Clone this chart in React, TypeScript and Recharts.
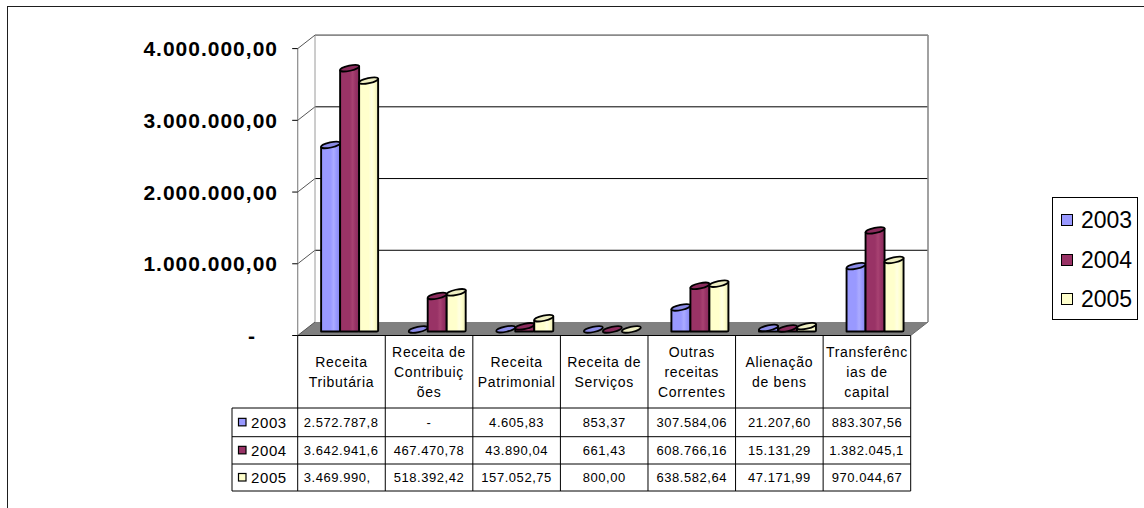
import React from 'react';
import { BarChart, Bar, XAxis, YAxis, CartesianGrid, Legend } from 'recharts';

// ---- data ----
const categories = [
  'Receita Tributária',
  'Receita de Contribuições',
  'Receita Patrimonial',
  'Receita de Serviços',
  'Outras receitas Correntes',
  'Alienação de bens',
  'Transferências de capital',
];

// category labels as they wrap inside the table header cells
const categoryLines = [
  ['Receita', 'Tributária'],
  ['Receita de', 'Contribuiç', 'ões'],
  ['Receita', 'Patrimonial'],
  ['Receita de', 'Serviços'],
  ['Outras', 'receitas', 'Correntes'],
  ['Alienação', 'de bens'],
  ['Transferênc', 'ias de', 'capital'],
];

const years = ['2003', '2004', '2005'];

const values2003 = [2572787.8, 0, 4605.83, 853.37, 307584.06, 21207.6, 883307.56];
const values2004 = [3642941.6, 467470.78, 43890.04, 661.43, 608766.16, 15131.29, 1382045.1];
const values2005 = [3469990.0, 518392.42, 157052.75, 800.0, 638582.64, 47171.99, 970044.67];

const yTicks = [0, 1000000, 2000000, 3000000, 4000000];

const seriesValues = [values2003, values2004, values2005];

const chartData = categories.map((category, i) => ({
  category,
  y2003: values2003[i],
  y2004: values2004[i],
  y2005: values2005[i],
}));

// ---- styling ----
const FONT = "Arial, 'Liberation Sans', Helvetica, sans-serif";

const tones = [
  { base: '#9999FF', light: '#ABABFF', dark: '#8787EA', top: '#8A8AE6' },
  { base: '#993366', light: '#A84272', dark: '#85295A', top: '#8A2B5C' },
  { base: '#FFFFCC', light: '#FFFFE2', dark: '#E6E6B4', top: '#EEEEC2' },
];

// layout of the oblique 3D box
const W = 1144;
const H = 508;
const PLOT = { left: 306.5, right: 919.5, top: 44.6, bottom: 331.5 };
const BACK = { dx: 8.5, dy: -9.5 };
const FRONT = { dx: -8.8, dy: 4 };
const Y_AXIS_W = 60;
const X_AXIS_H = 160;
const BAND = (PLOT.right - PLOT.left) / categories.length;
const TABLE = { top: PLOT.bottom + FRONT.dy, rows: [408, 436.7, 464, 491], headerLeft: 232, headerMid: 371.5 };

// pt-BR number formatting: 1.234.567,89
function formatBR(v: number): string {
  const [int, dec] = Math.abs(v).toFixed(2).split('.');
  const grouped = int.replace(/\B(?=(\d{3})+(?!\d))/g, '.');
  return `${v < 0 ? '-' : ''}${grouped},${dec}`;
}

// table cells hold at most 11 characters; overflowing values lose trailing decimals
const CELL_CHARS = 11;
function cellText(v: number): { text: string; clipped: boolean } {
  if (v === 0) return { text: '-', clipped: false };
  const full = formatBR(v);
  if (full.length <= CELL_CHARS) return { text: full, clipped: false };
  return { text: full.slice(0, CELL_CHARS).replace(/0+$/, ''), clipped: true };
}

function YTick(props: any) {
  const { y, payload } = props;
  const frontY = y + FRONT.dy;
  const fl = PLOT.left + FRONT.dx;
  const isZero = payload.value === 0;
  return (
    <g>
      <line x1={fl - 5.5} y1={frontY} x2={fl} y2={frontY} stroke="#000" strokeWidth={1} />
      <text
        x={isZero ? 256 : 278}
        y={frontY}
        dy="0.36em"
        textAnchor="end"
        fontFamily={FONT}
        fontWeight="bold"
        fontSize={21}
        letterSpacing={1}
        fill="#000"
      >
        {isZero ? '-' : formatBR(payload.value)}
      </text>
    </g>
  );
}

// back-wall gridlines, side ticks, floor and wall edges
function gridLine(p: any) {
  const y = p.y1;
  const by = y + BACK.dy;
  const fy = y + FRONT.dy;
  const bl = PLOT.left + BACK.dx;
  const br = PLOT.right + BACK.dx;
  const fl = PLOT.left + FRONT.dx;
  const fr = PLOT.right + FRONT.dx;
  const plotH = PLOT.bottom - PLOT.top;
  const isBottom = Math.abs(y - PLOT.bottom) < 1;
  const isTop = Math.abs(y - PLOT.top) < 1;
  return (
    <g key={`grid-${p.index}-${y}`}>
      {isBottom && (
        <>
          <polygon points={`${fl},${fy} ${fr},${fy} ${br},${by} ${bl},${by}`} fill="#808080" stroke="none" />
          <line x1={fr} y1={fy} x2={br} y2={by} stroke="#6a6a6a" strokeWidth={1} />
        </>
      )}
      {isTop && (
        <>
          <line x1={bl} y1={by} x2={br} y2={by} stroke="#8a8a8a" strokeWidth={1.6} />
          <line x1={br} y1={by} x2={br} y2={by + plotH} stroke="#8a8a8a" strokeWidth={1.6} />
          <line x1={bl} y1={by} x2={bl} y2={by + plotH} stroke="#9a9a9a" strokeWidth={1} />
          <line x1={fl} y1={fy} x2={fl} y2={fy + plotH} stroke="#8a8a8a" strokeWidth={1.2} />
        </>
      )}
      {!isTop && !isBottom && <line x1={bl} y1={by} x2={br} y2={by} stroke="#000" strokeWidth={1} />}
      <line x1={fl} y1={fy} x2={bl} y2={by} stroke="#555" strokeWidth={1} />
    </g>
  );
}

// rounded 3D column: body with a slanted elliptical cap
function Column(props: any) {
  const { x, y, width, height, s } = props;
  const t = tones[s];
  const rise = 4;
  const base = y + height;
  const gid = `col-grad-${s}`;
  const cx = x + width / 2;
  const cy = y - rise / 2;
  const angle = (Math.atan2(-rise, width) * 180) / Math.PI;
  const rx = Math.hypot(width, rise) / 2;
  return (
    <g>
      {height > 0.5 && (
        <path
          d={`M${x},${base} L${x},${y} L${x + width},${y - rise} L${x + width},${base - 1} Q${x + width},${base} ${x + width - 1.5},${base} Z`}
          fill={`url(#${gid})`}
          stroke="#000"
          strokeWidth={1.9}
          strokeLinejoin="round"
        />
      )}
      <ellipse
        cx={cx}
        cy={cy}
        rx={rx}
        ry={2.6}
        transform={`rotate(${angle} ${cx} ${cy})`}
        fill={t.top}
        stroke="#000"
        strokeWidth={1.7}
      />
    </g>
  );
}

function TableColumn(props: any) {
  const { x, payload } = props;
  const index = typeof props.index === 'number' ? props.index : categories.indexOf(payload.value);
  const cx = x + FRONT.dx;
  const left = cx - BAND / 2;
  const right = cx + BAND / 2;
  const lines = categoryLines[index] || [payload.value];
  const rows = TABLE.rows;
  const rowMid = (k: number) => (rows[k] + rows[k + 1]) / 2;
  const tableRight = PLOT.right + FRONT.dx;
  return (
    <g>
      {index === 0 && (
        <>
          <line x1={left} y1={TABLE.top} x2={tableRight} y2={TABLE.top} stroke="#000" strokeWidth={1} />
          {rows.map((ry) => (
            <line key={`h-${ry}`} x1={TABLE.headerLeft} y1={ry} x2={tableRight} y2={ry} stroke="#000" strokeWidth={1} />
          ))}
          <line x1={TABLE.headerLeft} y1={rows[0]} x2={TABLE.headerLeft} y2={rows[3]} stroke="#000" strokeWidth={1} />
          {years.map((yr, k) => (
            <g key={`rh-${yr}`}>
              <rect x={238.5} y={rowMid(k) - 4} width={7.5} height={7.5} fill={tones[k].base} stroke="#000" strokeWidth={1.2} />
              <text x={251} y={rowMid(k)} dy="0.36em" fontFamily={FONT} fontSize={15} letterSpacing={0.6} fill="#000">
                {yr}
              </text>
            </g>
          ))}
        </>
      )}
      <line x1={left} y1={TABLE.top} x2={left} y2={rows[3]} stroke="#000" strokeWidth={1} />
      {index === categories.length - 1 && (
        <line x1={right} y1={TABLE.top} x2={right} y2={rows[3]} stroke="#000" strokeWidth={1} />
      )}
      {lines.map((ln, j) => (
        <text
          key={`l-${j}`}
          x={cx}
          y={TABLE.headerMid + (j - (lines.length - 1) / 2) * 20}
          dy="0.36em"
          textAnchor="middle"
          fontFamily={FONT}
          fontSize={14}
          letterSpacing={0.7}
          fill="#000"
        >
          {ln}
        </text>
      ))}
      {seriesValues.map((vals, k) => {
        const { text, clipped } = cellText(vals[index]);
        return (
          <text
            key={`c-${k}`}
            x={clipped ? left + 6 : cx}
            y={rowMid(k)}
            dy="0.36em"
            textAnchor={clipped ? 'start' : 'middle'}
            fontFamily={FONT}
            fontSize={13}
            letterSpacing={0.55}
            fill="#000"
          >
            {text}
          </text>
        );
      })}
    </g>
  );
}

function LegendBox(props: any) {
  const payload = props.payload || [];
  return (
    <div
      style={{
        position: 'relative',
        width: 86,
        height: 123,
        border: '1px solid #000',
        boxSizing: 'border-box',
        background: '#fff',
        fontFamily: FONT,
      }}
    >
      {payload.map((item: any, i: number) => (
        <div
          key={`lg-${item.value}`}
          style={{ position: 'absolute', left: 8, top: 8 + i * 39.5, height: 28, display: 'flex', alignItems: 'center' }}
        >
          <span
            style={{
              display: 'inline-block',
              width: 12,
              height: 12,
              boxSizing: 'border-box',
              border: '1.6px solid #000',
              background: item.color,
            }}
          />
          <span style={{ marginLeft: 8, fontSize: 23, lineHeight: '28px', color: '#000' }}>{item.value}</span>
        </div>
      ))}
    </div>
  );
}

export default function App() {
  return (
    <div style={{ position: 'absolute', left: 0, top: 0, width: W, height: H, background: '#fff', overflow: 'hidden' }}>
      <div
        style={{
          position: 'absolute',
          left: 7,
          top: 6,
          width: W,
          height: H,
          borderTop: '1.5px solid #1e1e1e',
          borderLeft: '1.5px solid #1e1e1e',
        }}
      />
      <BarChart
        width={W}
        height={H}
        data={chartData}
        margin={{
          top: PLOT.top,
          right: W - PLOT.right,
          left: PLOT.left - Y_AXIS_W,
          bottom: H - PLOT.bottom - X_AXIS_H,
        }}
        barCategoryGap="16.7%"
        barGap={0}
        style={{ fontFamily: FONT }}
      >
        <defs>
          {tones.map((t, s) => (
            <linearGradient key={`g-${s}`} id={`col-grad-${s}`} x1="0" y1="0" x2="1" y2="0">
              <stop offset="0%" stopColor={t.base} />
              <stop offset="50%" stopColor={t.base} />
              <stop offset="66%" stopColor={t.light} />
              <stop offset="80%" stopColor={t.base} />
              <stop offset="100%" stopColor={t.dark} />
            </linearGradient>
          ))}
        </defs>
        <CartesianGrid vertical={false} horizontal={gridLine} />
        <XAxis
          dataKey="category"
          height={X_AXIS_H}
          axisLine={false}
          tickLine={false}
          interval={0}
          tick={TableColumn}
        />
        <YAxis
          type="number"
          domain={[0, 4000000]}
          ticks={yTicks}
          width={Y_AXIS_W}
          axisLine={false}
          tickLine={false}
          interval={0}
          tick={YTick}
        />
        <Legend
          layout="vertical"
          align="center"
          verticalAlign="middle"
          content={LegendBox}
          wrapperStyle={{ position: 'absolute', left: 1052, top: 197, width: 86, height: 123 }}
        />
        <Bar dataKey="y2003" name={years[0]} fill={tones[0].base} isAnimationActive={false} shape={(p: any) => <Column {...p} s={0} />} />
        <Bar dataKey="y2004" name={years[1]} fill={tones[1].base} isAnimationActive={false} shape={(p: any) => <Column {...p} s={1} />} />
        <Bar dataKey="y2005" name={years[2]} fill={tones[2].base} isAnimationActive={false} shape={(p: any) => <Column {...p} s={2} />} />
      </BarChart>
    </div>
  );
}
